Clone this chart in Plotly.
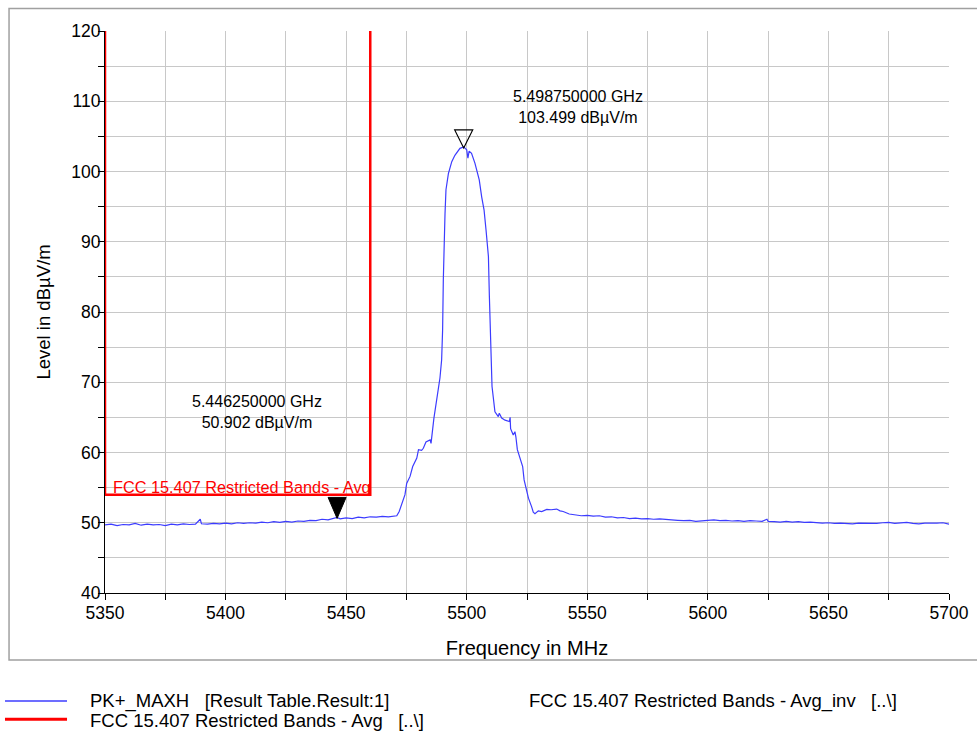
import plotly.graph_objects as go

# ---- Data ----
freq_mhz = [
    5350, 5352.5, 5355, 5357.5, 5360, 5362.5, 5365, 5367.5, 5370, 5372.5,
    5375, 5377.5, 5380, 5382.5, 5385, 5387.5, 5389.5, 5390, 5392.5, 5395,
    5397.5, 5400, 5402.5, 5405, 5407.5, 5410, 5412.5, 5415, 5417.5, 5420,
    5422.5, 5425, 5427.5, 5430, 5432.5, 5435, 5437.5, 5440, 5442.5, 5445,
    5446.25, 5447.5, 5450, 5452.5, 5455, 5457.5, 5460, 5462.5, 5465, 5467.5,
    5470, 5471, 5472, 5473, 5474.4, 5475.1, 5476.5, 5477.6, 5479.3, 5480,
    5481.3, 5482, 5483.1, 5484.8, 5485.2, 5486.4, 5487.5, 5488.2, 5488.9, 5489.6,
    5490, 5490.3, 5490.6, 5491, 5491.4, 5492.4, 5493.8, 5495.1, 5497.2, 5498.75,
    5500, 5500.5, 5501, 5502, 5503.4, 5505.2, 5506.2, 5507.2, 5508, 5509,
    5509.4, 5509.7, 5510.1, 5510.5, 5511, 5511.7, 5513.1, 5513.5, 5514.5, 5515.9,
    5517.7, 5518, 5518.2, 5519.3, 5520, 5520.4, 5521, 5522.1, 5523.2, 5523.8,
    5524.9, 5525.6, 5526.9, 5527.6, 5528.3, 5529.7, 5531.1, 5533.2, 5535, 5537.3,
    5538.7, 5540, 5542.5, 5545, 5547.5, 5550, 5552.5, 5555, 5557.5, 5560,
    5562.5, 5565, 5567.5, 5570, 5572.5, 5575, 5577.5, 5580, 5582.5, 5585,
    5587.5, 5590, 5592.5, 5595, 5597.5, 5600, 5602.5, 5605, 5607.5, 5610,
    5612.5, 5615, 5617.5, 5620, 5622.5, 5624.5, 5625, 5627.5, 5630, 5632.5,
    5635, 5637.5, 5640, 5642.5, 5645, 5647.5, 5650, 5652.5, 5655, 5657.5,
    5660, 5662.5, 5665, 5667.5, 5670, 5672.5, 5675, 5677.5, 5680, 5682.5,
    5685, 5687.5, 5690, 5692.5, 5695, 5697.5, 5700,
]
level_dbuv = [
    49.7, 49.8, 49.6, 49.75, 49.7, 49.9, 49.65, 49.8, 49.7, 49.75,
    49.6, 49.8, 49.7, 49.85, 49.75, 49.8, 50.5, 49.85, 49.8, 49.9,
    49.85, 49.95, 49.85, 50.0, 49.9, 50.0, 49.95, 50.1, 50.0, 50.15,
    50.05, 50.2, 50.1, 50.25, 50.2, 50.35, 50.3, 50.5, 50.4, 50.6,
    50.75, 50.55, 50.7, 50.6, 50.8, 50.7, 50.85, 50.8, 50.9, 50.85,
    50.9, 51.0, 51.6, 52.5, 54.0, 55.6, 56.6, 58.0, 59.2, 60.4,
    60.3, 60.6, 61.5, 61.8, 61.3, 64.9, 67.5, 69.0, 70.6, 73.2,
    77.4, 84.6, 90.3, 94.0, 97.4, 99.7, 101.4, 102.3, 103.3, 103.5,
    103.1, 101.9, 102.9, 102.6, 101.2, 98.8, 96.4, 94.5, 91.7, 87.9,
    82.2, 77.4, 72.7, 69.4, 67.9, 65.8, 65.1, 65.6, 64.9, 64.6,
    64.4, 65.0, 63.4, 62.5, 62.96, 62.2, 60.4, 59.0, 58.0, 56.1,
    54.7, 53.5, 52.3, 51.5, 51.3, 51.7, 51.6, 51.9, 51.85, 51.95,
    51.7, 51.6, 51.25, 51.1, 51.0, 51.05, 50.95, 51.0, 50.8, 50.85,
    50.7, 50.75, 50.6, 50.65, 50.55, 50.6, 50.5, 50.55, 50.45, 50.4,
    50.35, 50.3, 50.35, 50.2, 50.3, 50.3, 50.4, 50.3, 50.35, 50.25,
    50.3, 50.2, 50.3, 50.25, 50.2, 50.5, 50.2, 50.15, 50.1, 50.2,
    50.1, 50.15, 50.05, 50.1, 50.0, 49.95, 50.0, 49.9, 49.95, 49.9,
    49.85, 49.95, 49.9, 49.95, 49.9, 50.0, 50.05, 49.9, 50.0, 50.05,
    49.9, 49.85, 49.95, 49.9, 49.95, 50.0, 49.8,
]

limit_freq = [5350, 5350, 5460, 5460]
limit_level = [120, 54, 54, 120]
limit_name = "FCC 15.407 Restricted Bands - Avg"

marker_freq_mhz = [5446.25, 5498.75]
marker_level = [50.902, 103.499]
marker_labels = ["5.446250000 GHz<br>50.902 dBµV/m", "5.498750000 GHz<br>103.499 dBµV/m"]

legend_texts = [
    "PK+_MAXH   [Result Table.Result:1]",
    "FCC 15.407 Restricted Bands - Avg   [..\\]",
    "FCC 15.407 Restricted Bands - Avg_inv   [..\\]",
]

x_ticks = [5350, 5400, 5450, 5500, 5550, 5600, 5650, 5700]
y_ticks = [40, 50, 60, 70, 80, 90, 100, 110, 120]

FONT = "Liberation Sans, Arial, sans-serif"
BLUE = "#3c3cff"
RED = "#ff0000"
GRID = "#c8c8c8"

fig = go.Figure()
fig.add_trace(go.Scatter(x=freq_mhz, y=level_dbuv, mode="lines",
                         line=dict(color=BLUE, width=1.2), name=legend_texts[0]))
fig.add_trace(go.Scatter(x=limit_freq, y=limit_level, mode="lines",
                         line=dict(color=RED, width=2.5), name=limit_name))

axis_common = dict(
    showgrid=True, gridcolor=GRID, gridwidth=1, zeroline=False,
    showline=True, linecolor="black", linewidth=1,
    ticks="outside", ticklen=6, tickcolor="black", tickwidth=1,
    tickfont=dict(family=FONT, size=17.5, color="black"),
    layer="below traces", automargin=False,
)

fig.update_layout(
    width=977, height=731,
    margin=dict(l=105, r=28, t=31, b=138, autoexpand=False),
    paper_bgcolor="white", plot_bgcolor="white",
    showlegend=False,
    font=dict(family=FONT, color="black"),
    xaxis=dict(range=[5350, 5700], tickvals=x_ticks, ticklabelstandoff=-2,
               minor=dict(dtick=25, tick0=5350, showgrid=True, gridcolor=GRID,
                          ticks="outside", ticklen=6, tickcolor="black"),
               title=dict(text="Frequency in MHz", font=dict(family=FONT, size=20), standoff=18),
               **axis_common),
    yaxis=dict(range=[40, 120], tickvals=y_ticks, ticklabelstandoff=-6,
               minor=dict(dtick=5, tick0=40, showgrid=True, gridcolor=GRID,
                          ticks="outside", ticklen=6, tickcolor="black"),
               title=dict(text="Level in dBµV/m", font=dict(family=FONT, size=18.5), standoff=15),
               **axis_common),
)

shapes = []
# outer frame
shapes.append(dict(type="rect", xref="paper", yref="paper", x0=-0.1137, x1=1.05,
                   y0=-0.1192, y1=1.0400, line=dict(color="#a0a0a0", width=1.5),
                   fillcolor="rgba(0,0,0,0)", layer="below"))
# marker triangles (pixel-sized, anchored at marker data points)
shapes.append(dict(type="path", xref="x", yref="y", xsizemode="pixel", ysizemode="pixel",
                   xanchor=marker_freq_mhz[0], yanchor=marker_level[0],
                   path="M -9,19 L 9,19 L 0,-2 Z", fillcolor="black",
                   line=dict(color="black", width=1)))
shapes.append(dict(type="path", xref="x", yref="y", xsizemode="pixel", ysizemode="pixel",
                   xanchor=marker_freq_mhz[1], yanchor=marker_level[1],
                   path="M -9,17 L 9,17 L 0,-1 Z", fillcolor="rgba(0,0,0,0)",
                   line=dict(color="black", width=1.2)))
# legend samples
shapes.append(dict(type="line", xref="paper", yref="paper", x0=-0.1185, x1=-0.045,
                   y0=-0.1922, y1=-0.1922, line=dict(color=BLUE, width=1.5)))
shapes.append(dict(type="line", xref="paper", yref="paper", x0=-0.1185, x1=-0.045,
                   y0=-0.2245, y1=-0.2245, line=dict(color=RED, width=3)))

annotations = []
annotations.append(dict(x=marker_freq_mhz[0], y=marker_level[0], xref="x", yref="y",
                        text=marker_labels[0], showarrow=False, xshift=-80, yshift=104,
                        font=dict(family=FONT, size=16, color="black")))
annotations.append(dict(x=marker_freq_mhz[1], y=marker_level[1], xref="x", yref="y",
                        text=marker_labels[1], showarrow=False, xshift=114, yshift=40,
                        font=dict(family=FONT, size=16, color="black")))
annotations.append(dict(x=limit_freq[1], y=limit_level[1], xref="x", yref="y",
                        text=limit_name, showarrow=False, xanchor="left", yanchor="bottom",
                        xshift=6, yshift=-3, font=dict(family=FONT, size=16.3, color=RED)))
for txt, px, py in [(legend_texts[0], -0.0201, -0.1922),
                    (legend_texts[1], -0.0201, -0.2265),
                    (legend_texts[2], 0.5, -0.1922)]:
    annotations.append(dict(x=px, y=py, xref="paper", yref="paper", text=txt,
                            showarrow=False, xanchor="left", yanchor="middle",
                            font=dict(family=FONT, size=18.5, color="black")))

fig.update_layout(shapes=shapes, annotations=annotations)
fig.write_html(
    "out.html",
    config={"displayModeBar": False},
    post_script="document.body.style.margin='0';document.body.style.overflow='hidden';",
)
